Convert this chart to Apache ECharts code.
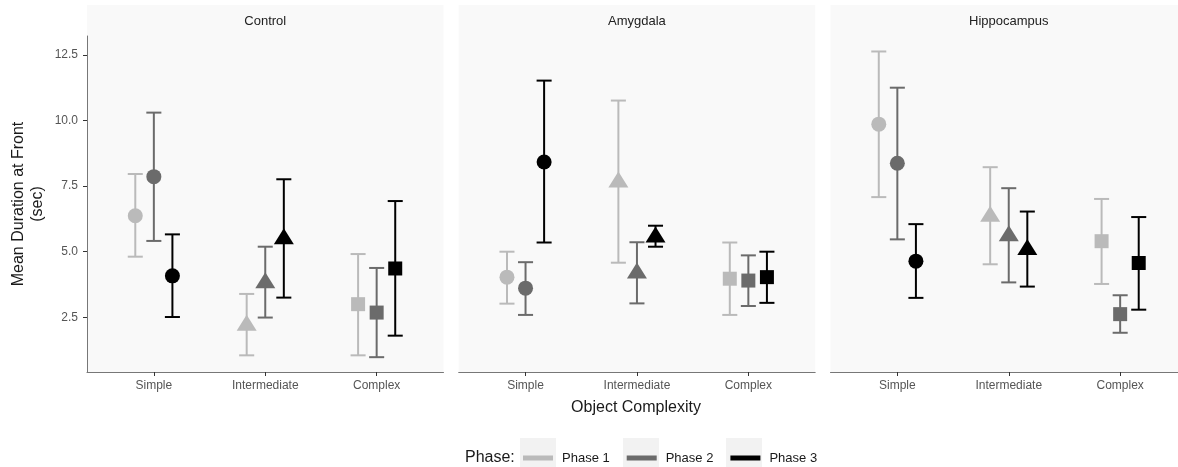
<!DOCTYPE html>
<html>
<head>
<meta charset="utf-8">
<script src="https://cdn.jsdelivr.net/npm/echarts@6/dist/echarts.min.js"></script>
<style>html,body{margin:0;padding:0;background:#fff}#c{width:1178px;height:467px}</style>
</head>
<body>
<div id="c"></div>
<script>
// ---- data ----
const categories = ['Simple', 'Intermediate', 'Complex'];
const phases = ['Phase 1', 'Phase 2', 'Phase 3'];
const panels = ['Control', 'Amygdala', 'Hippocampus'];
const yTicks = [2.5, 5.0, 7.5, 10.0, 12.5];

// rows: phase, columns: category
const controlMean = [[6.37, 2.19, 3.00], [7.86, 3.81, 2.68], [4.08, 5.49, 4.36]];
const controlLow  = [[4.81, 1.05, 1.05], [5.41, 2.49, 0.98], [2.51, 3.25, 1.80]];
const controlHigh = [[7.96, 3.39, 4.91], [10.30, 5.19, 4.38], [5.66, 7.76, 6.93]];

const amygdalaMean = [[4.03, 7.65, 3.97], [3.61, 4.18, 3.90], [8.42, 5.55, 4.03]];
const amygdalaLow  = [[3.02, 4.58, 2.59], [2.59, 3.03, 2.93], [5.35, 5.19, 3.05]];
const amygdalaHigh = [[5.00, 10.76, 5.35], [4.60, 5.36, 4.86], [11.52, 5.99, 5.00]];

const hippocampusMean = [[9.86, 6.34, 5.40], [8.37, 5.60, 2.62], [4.64, 5.08, 4.57]];
const hippocampusLow  = [[7.08, 4.52, 3.77], [5.47, 3.83, 1.91], [3.24, 3.67, 2.79]];
const hippocampusHigh = [[12.63, 8.22, 7.01], [11.25, 7.42, 3.34], [6.05, 6.53, 6.32]];

const panelMeans = [controlMean, amygdalaMean, hippocampusMean];
const panelLows = [controlLow, amygdalaLow, hippocampusLow];
const panelHighs = [controlHigh, amygdalaHigh, hippocampusHigh];

// ---- styling ----
const phaseColors = ['#bababa', '#6b6b6b', '#000000'];
const FONT = '"Liberation Sans", Arial, Helvetica, sans-serif';
const panelLeft = [87, 458.7, 830.5];
const panelW = 356.5;
const gridTop = 36, gridBottomY = 372;
const yMin = 0.415, yMax = 13.22;
const dodge = 0.5;
const capWidth = 0.135;
const symbols = ['circle', 'triangle', 'rect'];

const chart = echarts.init(document.getElementById('c'), null, {renderer: 'canvas'});

const grids = [], xAxes = [], yAxes = [], series = [], graphics = [];

panels.forEach((p, pi) => {
  grids.push({left: panelLeft[pi], top: gridTop, width: panelW, height: gridBottomY - gridTop,
    containLabel: false, outerBoundsMode: 'none'});
  xAxes.push({
    type: 'value', gridIndex: pi, min: 0.4, max: 3.6,
    axisLine: {show: true, lineStyle: {color: '#777', width: 1}},
    axisTick: {show: true, customValues: [1, 2, 3], length: 4, lineStyle: {color: '#333', width: 1}},
    axisLabel: {show: true, customValues: [1, 2, 3], formatter: v => categories[Math.round(v) - 1],
      color: '#555', fontSize: 12, fontFamily: FONT, margin: 8},
    splitLine: {show: false}
  });
  yAxes.push({
    type: 'value', gridIndex: pi, min: yMin, max: yMax, show: pi === 0,
    name: pi === 0 ? 'Mean Duration at Front\n(sec)' : '',
    nameLocation: 'middle', nameRotate: 90, nameGap: 40,
    nameTextStyle: {fontSize: 16, fontFamily: FONT, color: '#1a1a1a', lineHeight: 19, align: 'center'},
    axisLine: {show: pi === 0, lineStyle: {color: '#777', width: 1}},
    axisTick: {show: pi === 0, customValues: yTicks, length: 4, lineStyle: {color: '#333', width: 1}},
    axisLabel: {show: pi === 0, customValues: yTicks, formatter: v => v.toFixed(1),
      color: '#555', fontSize: 12, fontFamily: FONT, margin: 9},
    splitLine: {show: false}
  });
  // panel + strip background
  graphics.push({type: 'rect', z: -100, shape: {x: panelLeft[pi], y: 5, width: panelW, height: gridBottomY - 5},
    style: {fill: '#f9f9f9'}});
  graphics.push({type: 'text', z: 10, x: panelLeft[pi] + panelW / 2, y: 21,
    style: {text: p, fontSize: 13, fontFamily: FONT, fill: '#222', align: 'center', verticalAlign: 'middle'}});

  phases.forEach((ph, k) => {
    const off = (k - 1) * dodge / 3;
    const ebData = categories.map((c, ci) => [ci + 1 + off, panelLows[pi][k][ci], panelHighs[pi][k][ci]]);
    const ptData = categories.map((c, ci) => [ci + 1 + off, panelMeans[pi][k][ci], ci]);
    const color = phaseColors[k];
    series.push({
      name: ph, type: 'custom', xAxisIndex: pi, yAxisIndex: pi, z: 2,
      data: ebData, encode: {x: 0, y: [1, 2]},
      itemStyle: {color},
      renderItem: (params, api) => {
        const x = api.value(0), lo = api.value(1), hi = api.value(2);
        const a = api.coord([x, lo]), b = api.coord([x, hi]);
        const hw = api.size([capWidth, 0])[0] / 2;
        const st = {stroke: color, lineWidth: 2};
        return {type: 'group', children: [
          {type: 'line', shape: {x1: a[0], y1: a[1], x2: b[0], y2: b[1]}, style: st},
          {type: 'line', shape: {x1: a[0] - hw, y1: a[1], x2: a[0] + hw, y2: a[1]}, style: st},
          {type: 'line', shape: {x1: b[0] - hw, y1: b[1], x2: b[0] + hw, y2: b[1]}, style: st}
        ]};
      }
    });
    series.push({
      name: ph, type: 'scatter', xAxisIndex: pi, yAxisIndex: pi, z: 3,
      data: ptData.map(d => ({
        value: d,
        symbol: symbols[d[2]],
        symbolSize: d[2] === 1 ? [20, 16] : (d[2] === 2 ? 14 : 15),
        symbolOffset: d[2] === 1 ? [0, -2.7] : [0, 0]
      })),
      itemStyle: {color, opacity: 1},
      emphasis: {disabled: true}
    });
  });
});

// axis title & legend decorations
graphics.push({type: 'text', x: 636, y: 408,
  style: {text: 'Object Complexity', fontSize: 16, fontFamily: FONT, fill: '#1a1a1a', align: 'center', verticalAlign: 'middle'}});
graphics.push({type: 'text', x: 465, y: 457.5,
  style: {text: 'Phase:', fontSize: 16, fontFamily: FONT, fill: '#1a1a1a', align: 'left', verticalAlign: 'middle'}});
[520, 623, 726].forEach(x => graphics.push({type: 'rect', z: -100, shape: {x: x, y: 438, width: 36, height: 30},
  style: {fill: '#f2f2f2'}}));

chart.setOption({
  animation: false,
  backgroundColor: '#ffffff',
  grid: grids, xAxis: xAxes, yAxis: yAxes, series: series,
  graphic: graphics,
  legend: {
    show: true, left: 523, top: 451.5, padding: 0, orient: 'horizontal',
    itemWidth: 30, itemHeight: 5, itemGap: 17,
    data: phases.map((p, k) => ({name: p, icon: 'rect', itemStyle: {color: phaseColors[k]}})),
    textStyle: {fontSize: 13, fontFamily: FONT, color: '#1a1a1a', padding: [0, 0, 0, 4]},
    selectedMode: false
  }
});
</script>
</body>
</html>
